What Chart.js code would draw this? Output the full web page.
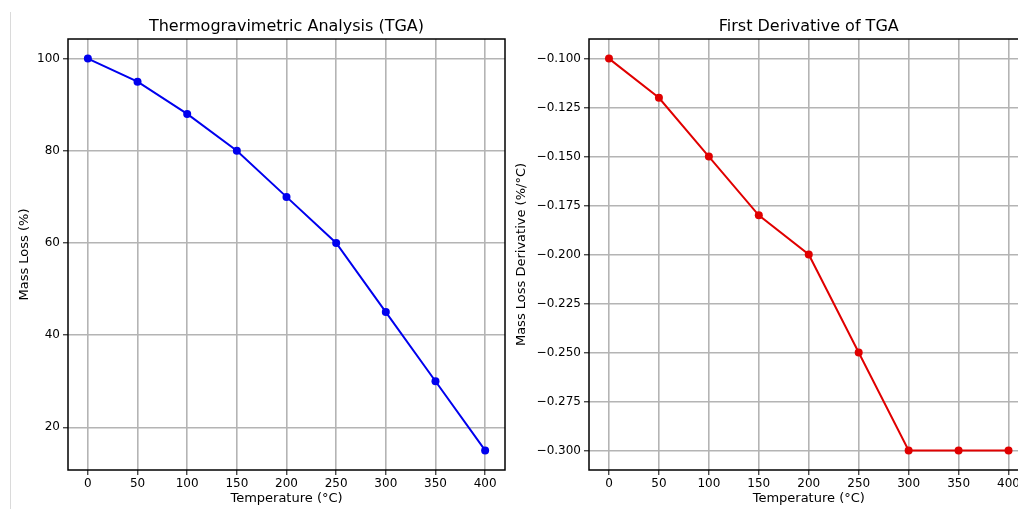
<!DOCTYPE html>
<html>
<head>
<meta charset="utf-8">
<script src="https://cdn.jsdelivr.net/npm/chart.js@4"></script>
<style>
  html, body { margin: 0; padding: 0; background: #fff; overflow: hidden; }
  #wrap { position: relative; width: 1018px; height: 509px; overflow: hidden; }
  #edge { position: absolute; left: 10px; top: 12px; width: 1px; height: 497px; background: #dadada; }
  #tga-chart { position: absolute; left: 0; top: 0; }
  #dtg-chart { position: absolute; left: 508px; top: 0; }
</style>
</head>
<body>
<div id="wrap">
  <div id="edge"></div>
  <canvas id="tga-chart" width="510" height="509"></canvas>
  <canvas id="dtg-chart" width="540" height="509"></canvas>
</div>
<script>
// data
const temps = [0, 50, 100, 150, 200, 250, 300, 350, 400];
const massLoss = [100, 95, 88, 80, 70, 60, 45, 30, 15];
const derivative = [-0.1, -0.12, -0.15, -0.18, -0.2, -0.25, -0.3, -0.3, -0.3];
const tempTicks = [0, 50, 100, 150, 200, 250, 300, 350, 400];
const massTicks = [20, 40, 60, 80, 100];
const derivTicks = [-0.3, -0.275, -0.25, -0.225, -0.2, -0.175, -0.15, -0.125, -0.1];

Chart.defaults.font.family = "'DejaVu Sans', sans-serif";
Chart.defaults.color = '#000';
Chart.defaults.animation = false;

// matplotlib style full box round the plot
const boxPlugin = {
  id: 'box',
  afterDatasetsDraw(chart) {
    const a = chart.chartArea;
    const ctx = chart.ctx;
    ctx.save();
    ctx.strokeStyle = '#000';
    ctx.lineWidth = 1.5;
    ctx.strokeRect(a.left, a.top, a.right - a.left, a.bottom - a.top);
    ctx.restore();
  }
};

function margins(lo, hi) {
  const pad = (hi - lo) * 0.05;
  return [lo - pad, hi + pad];
}

function makeChart(canvasId, opts) {
  const xr = margins(Math.min(...temps), Math.max(...temps));
  const yr = margins(Math.min(...opts.values), Math.max(...opts.values));
  const points = temps.map((t, i) => ({ x: t, y: opts.values[i] }));
  const gridColor = '#b4b4b4';

  return new Chart(document.getElementById(canvasId), {
    type: 'line',
    data: {
      datasets: [{
        data: points,
        borderColor: opts.color,
        backgroundColor: opts.color,
        borderWidth: 2,
        pointRadius: 4,
        pointHoverRadius: 4,
        pointBorderWidth: 0,
        tension: 0
      }]
    },
    plugins: [boxPlugin],
    options: {
      responsive: false,
      layout: { padding: { left: 0, right: opts.padRight, top: 0, bottom: 0 } },
      plugins: {
        legend: { display: false },
        tooltip: { enabled: false },
        title: {
          display: true,
          text: opts.title,
          fullSize: false,
          font: { size: 16, weight: 'normal' },
          padding: { top: 17, bottom: 2.8 }
        }
      },
      scales: {
        x: {
          type: 'linear',
          min: xr[0],
          max: xr[1],
          afterBuildTicks: s => { s.ticks = tempTicks.map(v => ({ value: v })); },
          afterFit: s => { s.height = 39; s.paddingLeft = 0; s.paddingRight = 0; },
          ticks: { font: { size: 12 }, padding: 2, maxRotation: 0, callback: v => String(v) },
          grid: { color: gridColor, lineWidth: 1.6, tickLength: 5, tickColor: '#000', tickWidth: 1 },
          border: { display: false },
          title: {
            display: true,
            text: 'Temperature (°C)',
            font: { size: 13 },
            padding: { top: 0, bottom: 3 }
          }
        },
        y: {
          type: 'linear',
          min: yr[0],
          max: yr[1],
          afterBuildTicks: s => { s.ticks = opts.ticks.map(v => ({ value: v })); },
          afterFit: s => { s.width = opts.yWidth; s.paddingTop = 0; s.paddingBottom = 0; },
          ticks: { font: { size: 12 }, padding: 3, callback: opts.fmt },
          grid: { color: gridColor, lineWidth: 1.6, tickLength: 5, tickColor: '#000', tickWidth: 1 },
          border: { display: false },
          title: {
            display: true,
            text: opts.yTitle,
            font: { size: 13 },
            padding: { top: opts.yTitlePad, bottom: 0 }
          }
        }
      }
    }
  });
}

makeChart('tga-chart', {
  values: massLoss,
  ticks: massTicks,
  color: '#0000ee',
  title: 'Thermogravimetric Analysis (TGA)',
  yTitle: 'Mass Loss (%)',
  yWidth: 68,
  yTitlePad: 17,
  padRight: 5,
  fmt: v => String(v)
});

makeChart('dtg-chart', {
  values: derivative,
  ticks: derivTicks,
  color: '#e00000',
  title: 'First Derivative of TGA',
  yTitle: 'Mass Loss Derivative (%/°C)',
  yWidth: 81,
  yTitlePad: 6,
  padRight: 19.5,
  fmt: v => v.toFixed(3).replace('-', '\u2212')
});
</script>
</body>
</html>
